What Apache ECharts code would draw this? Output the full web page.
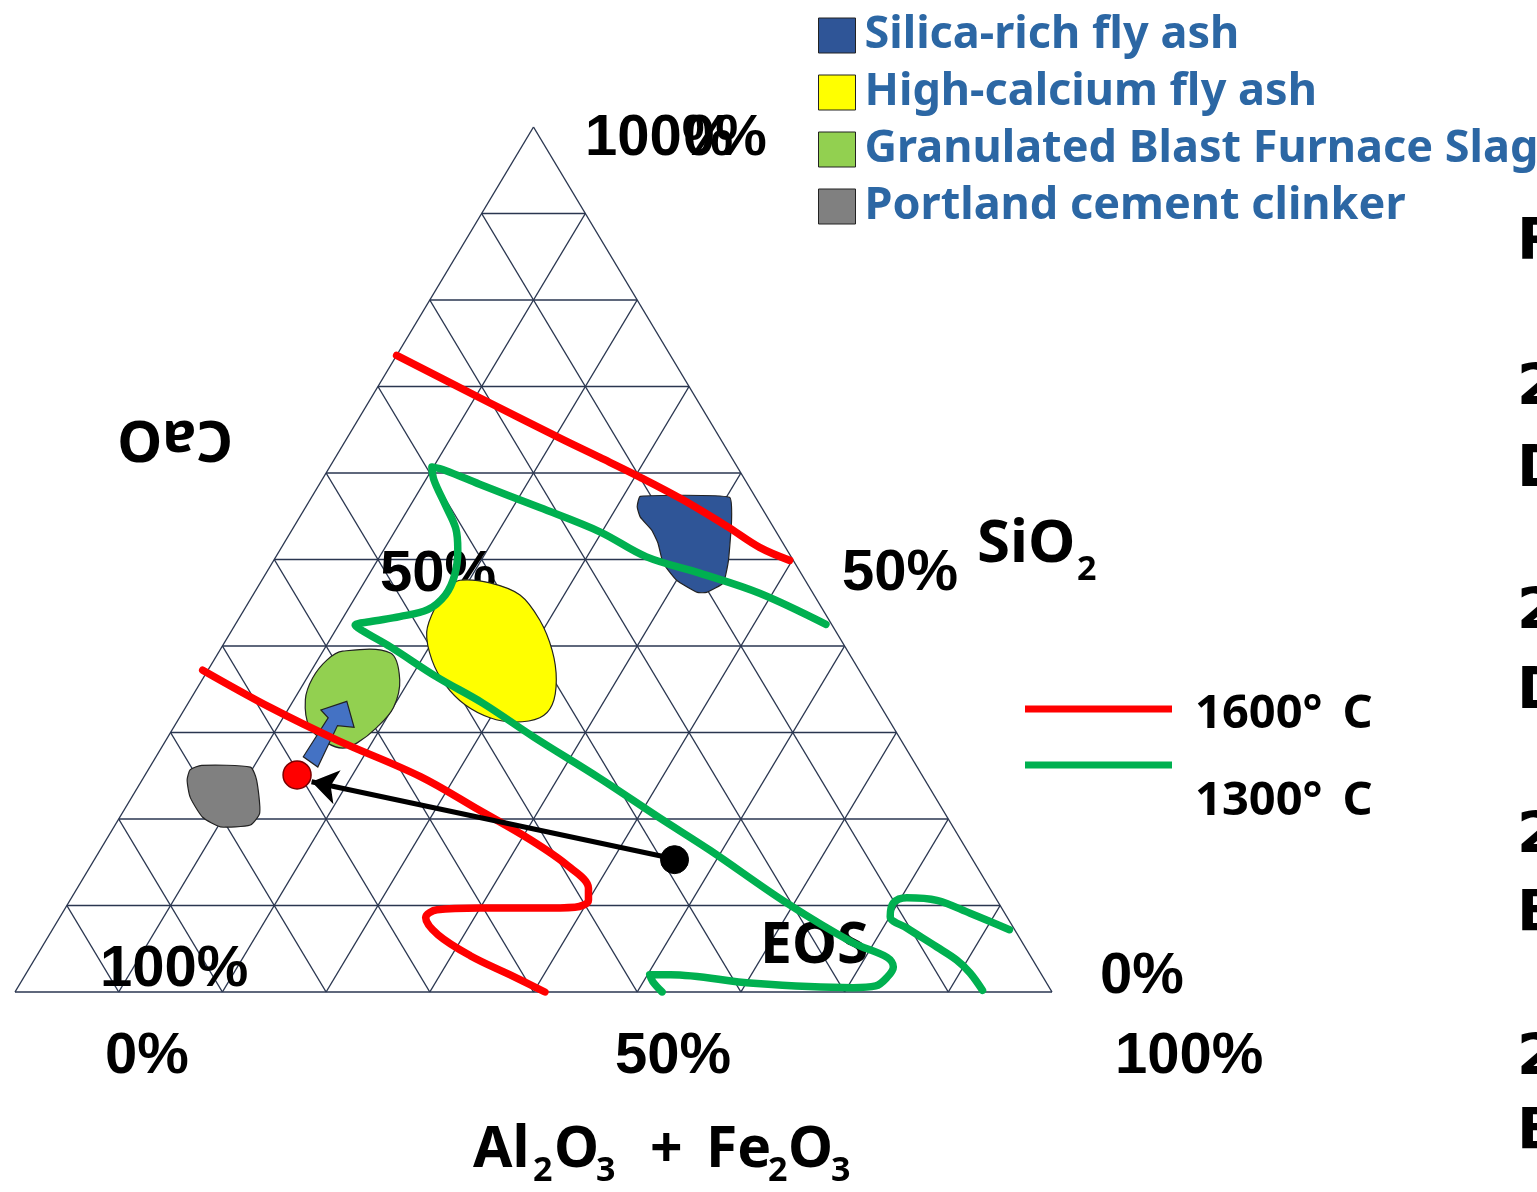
<!DOCTYPE html>
<html>
<head>
<meta charset="utf-8">
<script src="https://cdn.jsdelivr.net/npm/echarts@6/dist/echarts.min.js"></script>
<style>
  html, body { margin: 0; padding: 0; background: #fff; }
  #main { width: 1537px; height: 1192px; }
</style>
</head>
<body>
<div id="main"></div>
<script>
// positions inside the triangle: x = % along the base, y = % of the height
const gridSteps = [0, 10, 20, 30, 40, 50, 60, 70, 80, 90, 100];

const silicaFlyAsh = [[60.3,57.3],[68.9,57.2],[69.1,54.6],[68.8,49.9],[68.3,47.3],[66.7,46.2],[65.8,46.2],
  [63.8,47.6],[62.5,49.6],[62.0,51.9],[61.4,53.4],[60.3,54.9],[60.0,56.1]];
const highCalciumFlyAsh = [[42.9,47.6],[45.8,47.3],[48.7,45.9],[50.6,43.0],[51.8,39.5],[52.2,36.1],[51.8,33.2],
  [50.6,31.7],[48.2,31.2],[45.8,31.7],[43.4,33.2],[41.5,35.5],[40.2,38.4],[39.7,41.6],[40.5,44.4],[41.8,46.7]];
const blastFurnaceSlag = [[31.6,39.4],[36.2,39.2],[37.1,36.1],[36.5,32.9],[34.9,30.6],[33.0,28.8],[31.6,28.2],
  [30.1,28.8],[28.4,30.6],[28.0,33.8],[28.7,36.3],[30.1,38.4]];
const clinker = [[16.9,25.7],[18.0,26.2],[22.7,26.0],[23.3,24.5],[23.6,20.7],[22.7,19.3],[19.8,19.1],
  [18.1,20.2],[16.9,22.5],[16.6,24.5]];
const shiftArrow = [[32.0,33.6],[32.7,30.6],[31.1,30.8],[29.2,26.0],[27.8,27.2],[30.2,31.7],[29.5,32.6]];

const line1600a = [[36.8,73.6],[44.8,68.7],[52.6,64.0],[56.4,61.8],[60.3,59.5],[64.4,56.9],[68.7,53.8],[71.8,51.4],[74.7,49.9]];
const line1600b = [[18.1,37.2],[24.6,32.9],[31.1,29.1],[39.1,24.9],[44.8,21.0],[49.7,17.6],[53.3,14.6],[55.3,12.0],
  [55.3,10.6],[54.0,9.8],[50.6,9.7],[44.8,9.7],[40.7,9.5],[39.6,8.6],[40.8,6.6],[43.9,4.2],[47.7,2.0],[51.1,0]];
const line1300a = [[78.2,42.5],[71.8,46.1],[66.1,48.4],[60.9,50.3],[56.4,53.2],[50.6,56.0],[44.8,58.7],[41.5,60.3],
  [40.2,60.7],[40.4,59.2],[41.5,56.3],[42.5,53.6],[42.7,51.1],[42.4,48.2],[41.5,45.9],[39.8,44.2],[37.1,43.4],
  [34.2,42.8],[32.8,42.4],[33.6,41.7],[36.2,39.9],[40.7,36.4],[45.1,33.4],[50.0,29.5],[56.4,24.7],[62.2,20.1],
  [67.0,16.4],[74.4,10.3],[80.8,5.7],[84.1,4.0],[84.7,2.9],[84.1,1.7],[83.0,0.7],[80.8,0.5],[71.2,1.0],[63.2,2.0],
  [61.2,2.0],[61.5,1.2],[62.4,0]];
const line1300b = [[95.9,7.2],[92.1,9.1],[88.9,10.6],[86.0,10.9],[84.7,10.3],[84.4,8.7],[86.0,7.4],[88.9,5.2],
  [90.8,3.7],[92.1,2.2],[93.3,0.2]];

const mixPoint = [63.6, 15.3];
const targetPoint = [27.2, 25.1];
const shiftLine = [[62.4, 15.7], [28.6, 24.3]];

const materials = ['Silica-rich fly ash', 'High-calcium fly ash', 'Granulated Blast Furnace Slag', 'Portland cement clinker'];

// triangle grid segments
const gridSegs = [];
gridSteps.forEach(function (k) {
  if (k < 100) gridSegs.push([k / 2, k, 100 - k / 2, k]);        // horizontal
  if (k < 100) gridSegs.push([k, 0, 50 + k / 2, 100 - k]);       // parallel to left side
  if (k > 0) gridSegs.push([k, 0, k / 2, k]);                    // parallel to right side
});

const myChart = echarts.init(document.getElementById('main'));

function polygonSeries(name, pts, color, z, smooth) {
  return {
    name: name,
    type: 'custom',
    z: z,
    clip: false,
    itemStyle: { color: color, borderColor: '#222', borderWidth: 1.2 },
    encode: { x: 0, y: 1 },
    data: pts,
    renderItem: function (params, api) {
      if (params.context.rendered) return;
      params.context.rendered = true;
      return {
        type: 'polygon',
        shape: { points: pts.map(function (p) { return api.coord(p); }), smooth: smooth },
        style: { fill: color, stroke: '#222', lineWidth: 1.2 }
      };
    }
  };
}

function curve(name, pts, color) {
  return {
    name: name, type: 'line', z: 6, data: pts, smooth: 0.35, symbol: 'none',
    lineStyle: { color: color, width: 7.5, cap: 'round', join: 'round' }
  };
}

const boldArial = 'bold 58px "Liberation Sans", Arial, sans-serif';
const noto = '"Noto Sans", sans-serif';

function txt(text, x, y, font, z, extra) {
  return Object.assign({
    type: 'text', x: x, y: y, z: z === undefined ? 3 : z,
    style: {
      text: text, font: font, fill: '#000',
      textAlign: 'left', textVerticalAlign: 'middle', align: 'left', verticalAlign: 'middle'
    }
  }, extra || {});
}

const big = 'bold 57px ' + noto;
const sub = 'bold 34px ' + noto;

const option = {
  animation: false,
  backgroundColor: '#fff',
  grid: { left: 15, top: 127, width: 1037, height: 865 },
  xAxis: { type: 'value', min: 0, max: 100, show: false },
  yAxis: { type: 'value', min: 0, max: 100, show: false },
  legend: {
    data: materials,
    orient: 'vertical',
    left: 813, top: 4,
    itemWidth: 37, itemHeight: 35, itemGap: 4,
    icon: 'rect',
    selectedMode: false,
    itemStyle: { borderColor: '#222', borderWidth: 1 },
    textStyle: { color: '#2c67a4', fontSize: 45, fontWeight: 'bold', fontFamily: 'Noto Sans', lineHeight: 37, padding: [16, 0, 0, 4] }
  },
  graphic: [
    // percentage labels
    txt('100%', 585, 139, boldArial, 3),
    txt('0%', 683, 139, boldArial, 3),
    txt('50%', 380, 575, boldArial, 1),
    txt('50%', 842, 574, boldArial, 3),
    txt('100%', 100, 970, boldArial, 3),
    txt('0%', 1100, 977, boldArial, 3),
    txt('0%', 105, 1057, boldArial, 3),
    txt('50%', 615, 1057, boldArial, 3),
    txt('100%', 1115, 1057, boldArial, 3),
    // oxide names
    txt('SiO', 977, 545, 'bold 60px ' + noto, 3),
    txt('2', 1077, 570, sub, 3),
    txt('EOS', 760, 947, big, 3),
    txt('CaO', 175, 437, big, 3, { rotation: Math.PI, style: {
      text: 'CaO', font: big, fill: '#000', textAlign: 'center', textVerticalAlign: 'middle', align: 'center', verticalAlign: 'middle' } }),
    txt('Al', 473, 1151, big, 3),
    txt('2', 533, 1171, sub, 3),
    txt('O', 554, 1151, big, 3),
    txt('3', 596, 1171, sub, 3),
    txt('+', 650, 1151, big, 3),
    txt('Fe', 706, 1151, big, 3),
    txt('2', 768, 1171, sub, 3),
    txt('O', 788, 1151, big, 3),
    txt('3', 831, 1171, sub, 3),
    // temperature key
    { type: 'line', z: 3, shape: { x1: 1025, y1: 709, x2: 1172, y2: 709 }, style: { stroke: '#ff0000', lineWidth: 7 } },
    { type: 'line', z: 3, shape: { x1: 1025, y1: 765, x2: 1172, y2: 765 }, style: { stroke: '#00b050', lineWidth: 7 } },
    txt('1600\u00b0 \u2009C', 1195, 715, 'bold 47px ' + noto, 3),
    txt('1300\u00b0 \u2009C', 1195, 802, 'bold 47px ' + noto, 3),
    // clipped slide text at right edge
    txt('R', 1517, 244, 'bold 57px "DejaVu Sans"', 3),
    txt('2', 1517, 390, 'bold 57px "DejaVu Sans"', 3),
    txt('D', 1517, 471, 'bold 57px "DejaVu Sans"', 3),
    txt('2', 1517, 614, 'bold 57px "DejaVu Sans"', 3),
    txt('D', 1517, 693, 'bold 57px "DejaVu Sans"', 3),
    txt('2', 1517, 838, 'bold 57px "DejaVu Sans"', 3),
    txt('B', 1517, 916, 'bold 57px "DejaVu Sans"', 3),
    txt('2', 1517, 1060, 'bold 57px "DejaVu Sans"', 3),
    txt('B', 1517, 1134, 'bold 57px "DejaVu Sans"', 3)
  ],
  series: [
    {
      type: 'custom', z: 0, clip: false, silent: true,
      encode: { x: [0, 2], y: [1, 3] },
      data: gridSegs,
      renderItem: function (params, api) {
        const a = api.coord([api.value(0), api.value(1)]);
        const b = api.coord([api.value(2), api.value(3)]);
        return { type: 'line', shape: { x1: a[0], y1: a[1], x2: b[0], y2: b[1] }, style: { stroke: '#2a3650', lineWidth: 1.4 } };
      }
    },
    polygonSeries(materials[0], silicaFlyAsh, '#2f5597', 4, 0.15),
    polygonSeries(materials[1], highCalciumFlyAsh, '#ffff00', 4, 0.35),
    polygonSeries(materials[2], blastFurnaceSlag, '#92d050', 4, 0.35),
    polygonSeries(materials[3], clinker, '#808080', 4, 0.2),
    polygonSeries('shift', shiftArrow, '#4472c4', 5, 0),
    curve('1600\u00b0 C upper', line1600a, '#ff0000'),
    curve('1600\u00b0 C lower', line1600b, '#ff0000'),
    curve('1300\u00b0 C main', line1300a, '#00b050'),
    curve('1300\u00b0 C right', line1300b, '#00b050'),
    {
      type: 'lines', coordinateSystem: 'cartesian2d', z: 7,
      symbol: ['none', 'arrow'], symbolSize: 26,
      lineStyle: { color: '#000', width: 5, curveness: 0, opacity: 1 },
      data: [{ coords: shiftLine }]
    },
    {
      type: 'scatter', z: 8, symbolSize: 28,
      data: [
        { value: targetPoint, itemStyle: { color: '#ff0000', borderColor: '#7a0000', borderWidth: 1.5, opacity: 1 } },
        { value: mixPoint, itemStyle: { color: '#000', borderColor: '#000', opacity: 1 } }
      ]
    }
  ]
};

myChart.setOption(option);
</script>
</body>
</html>
